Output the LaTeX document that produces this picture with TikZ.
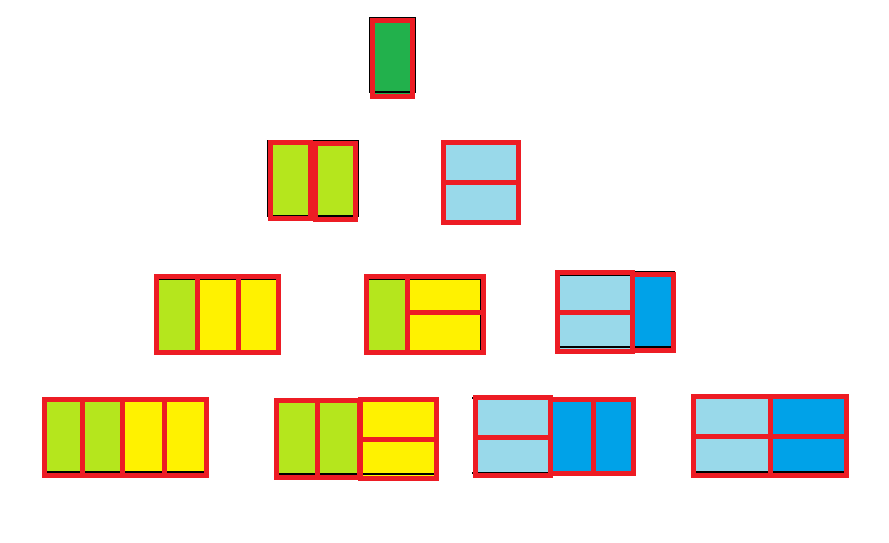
\documentclass[tikz,border=0pt]{standalone}
\definecolor{pred}{HTML}{ED1C24}
\definecolor{pgreen}{HTML}{22B14C}
\definecolor{plime}{HTML}{B5E61D}
\definecolor{pyellow}{HTML}{FFF200}
\definecolor{plblue}{HTML}{99D9EA}
\definecolor{pblue}{HTML}{00A2E8}
\begin{document}
\begin{tikzpicture}[x=1pt,y=-1pt,
  edge/.style={draw=pred,line width=5pt,line join=miter},
  ink/.style={draw=black,line width=2pt},
  gfill/.style={fill=pgreen},
  lfill/.style={fill=plime},
  yfill/.style={fill=pyellow},
  bfill/.style={fill=plblue},
  dfill/.style={fill=pblue}]
\useasboundingbox[fill=white] (0,0) rectangle (889,543);
% ---- row 1 : single green domino
\path[gfill] (372.5,20.5) rectangle (412.5,96.5);
\draw[ink] (370,18) rectangle (415,92);
\draw[edge] (372.5,20.5) rectangle (412.5,96.5);
% ---- row 2 left : two vertical lime dominoes
\path[lfill] (270.5,142.5) rectangle (355.5,219.5);
\draw[ink] (268,141) rectangle (358,216);
\draw[edge] (270.5,142.5) rectangle (310.5,218.5);
\draw[edge] (315.5,143.5) rectangle (355.5,219.5);
% ---- row 2 right : two horizontal light blue dominoes
\path[bfill] (443.5,142.5) rectangle (518.5,222.5);
\draw[edge] (443.5,142.5) rectangle (518.5,222.5);
\draw[edge] (443.5,182.5) -- (518.5,182.5);
% ---- row 3 left
\path[lfill] (156.5,276.5) rectangle (197,352.5);
\path[yfill] (197,276.5) rectangle (278.5,352.5);
\draw[ink] (157,279) -- (278,279);
\draw[edge] (156.5,276.5) rectangle (278.5,352.5);
\draw[edge] (197,276.5) -- (197,352.5);
\draw[edge] (238,276.5) -- (238,352.5);
% ---- row 3 middle
\path[lfill] (366.5,276.5) rectangle (407,352.5);
\path[yfill] (407,276.5) rectangle (483.5,352.5);
\draw[ink] (367,279) -- (481,279) -- (481,350);
\draw[edge] (366.5,276.5) rectangle (483.5,352.5);
\draw[edge] (407,276.5) -- (407,355);
\draw[edge] (407,312) -- (483.5,312);
% ---- row 3 right
\path[bfill] (557.5,272.5) rectangle (632.5,351.5);
\path[dfill] (632.5,274.5) rectangle (673.5,350.5);
\draw[ink] (558,275) -- (632,275);
\draw[ink] (558,347) -- (632,347);
\draw[ink] (633,272) -- (675,272);
\draw[ink] (633,347) -- (673,347);
\draw[edge] (557.5,272.5) rectangle (632.5,351.5);
\draw[edge] (557.5,312) -- (632.5,312);
\draw[edge] (632.5,274.5) rectangle (673.5,350.5);
% ---- row 4 first
\path[lfill] (44.5,399.5) rectangle (122,475.5);
\path[yfill] (122,399.5) rectangle (206.5,475.5);
\draw[ink] (42,397.5) -- (209,397.5);
\draw[ink] (43,472) -- (209,472);
\draw[edge] (44.5,399.5) rectangle (206.5,475.5);
\draw[edge] (82,399.5) -- (82,475.5);
\draw[edge] (122,399.5) -- (122,475.5);
\draw[edge] (164,399.5) -- (164,475.5);
% ---- row 4 second
\path[lfill] (276.5,400.5) rectangle (359,477.5);
\path[yfill] (359,399.5) rectangle (436.5,478.5);
\draw[ink] (274,400) -- (439,400);
\draw[ink] (274,474) -- (439,474);
\draw[edge] (276.5,400.5) rectangle (359,477.5);
\draw[edge] (317,400.5) -- (317,477.5);
\draw[edge] (360,399.5) rectangle (436.5,478.5);
\draw[edge] (360,439) -- (436.5,439);
% ---- row 4 third
\path[bfill] (475.5,397.5) rectangle (550.5,475.5);
\path[dfill] (550.5,399.5) rectangle (633.5,473.5);
\draw[ink] (472,398) -- (636,398);
\draw[ink] (472,473) -- (636,473);
\draw[edge] (475.5,397.5) rectangle (550.5,475.5);
\draw[edge] (475.5,437) -- (550.5,437);
\draw[edge] (550.5,399.5) rectangle (633.5,473.5);
\draw[edge] (593,399.5) -- (593,473.5);
% ---- row 4 fourth
\path[bfill] (693.5,396.5) rectangle (770,475.5);
\path[dfill] (770,396.5) rectangle (846.5,475.5);
\draw[ink] (694,472) -- (846,472);
\draw[ink] (762,397) -- (775,397);
\draw[edge] (693.5,396.5) rectangle (846.5,475.5);
\draw[edge] (770,396.5) -- (770,475.5);
\draw[edge] (693.5,436) -- (846.5,436);
\end{tikzpicture}
\end{document}
